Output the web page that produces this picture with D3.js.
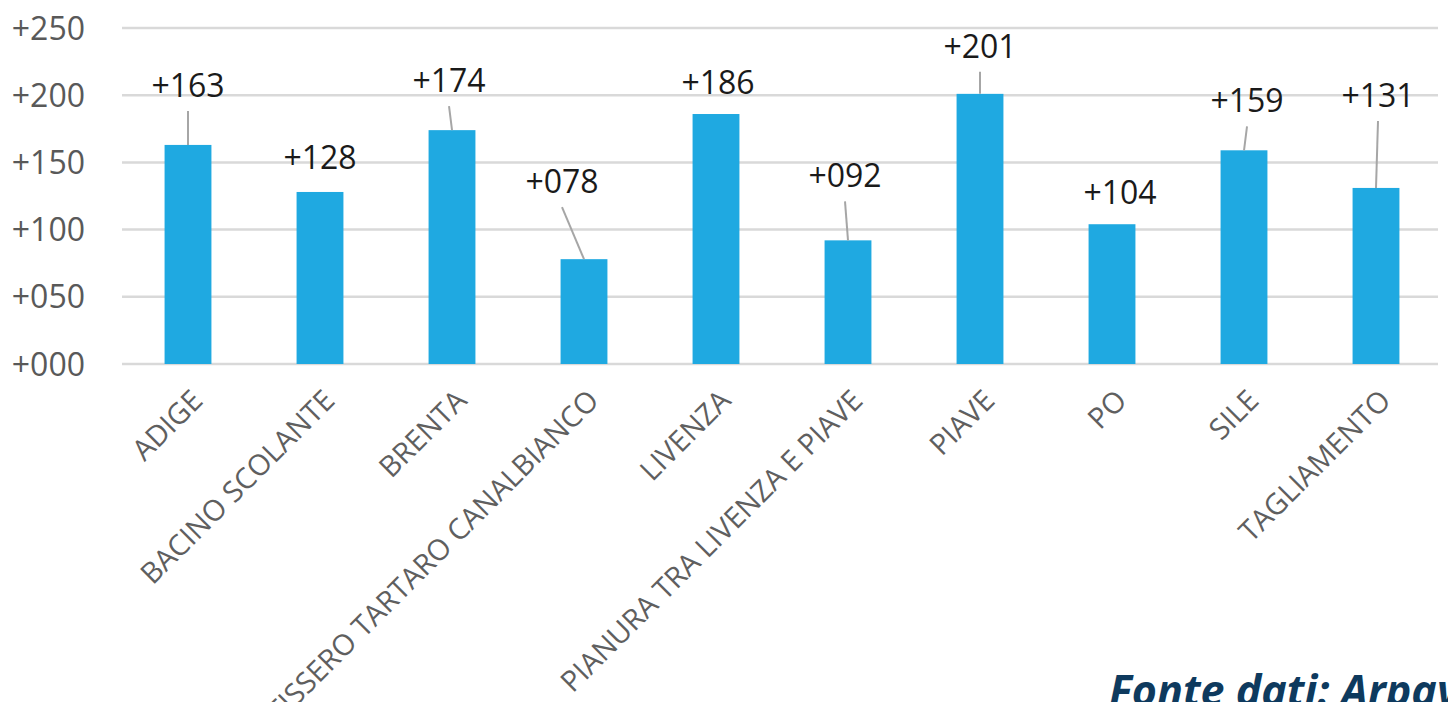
<!DOCTYPE html>
<html lang="it">
<head>
    <meta charset="UTF-8">
    <title>Bacini - D3.js Bar Chart</title>
    <script src="https://d3js.org/d3.v7.min.js"></script>
    <style>
        body { margin: 0; background: #fff; overflow: hidden; }
        svg { display: block; font-family: "Open Sans", sans-serif; }
        .grid line { stroke: #d9d9d9; stroke-width: 2.5; }
        .bar { fill: #1fa9e1; }
        .tick-label { font-size: 32px; fill: #595959; text-anchor: end; }
        .cat-label { font-size: 29px; fill: #5f5f5f; text-anchor: end; }
        .value-label { font-size: 32px; fill: #1a1a1a; text-anchor: middle; }
        .leader { stroke: #a6a6a6; stroke-width: 2; }
        .source { font-size: 43px; font-weight: bold; font-style: italic; fill: #0e3a5e; }
    </style>
</head>
<body>
    <script>
        // Data
        const categories = ["ADIGE", "BACINO SCOLANTE", "BRENTA", "FISSERO TARTARO CANALBIANCO", "LIVENZA",
            "PIANURA TRA LIVENZA E PIAVE", "PIAVE", "PO", "SILE", "TAGLIAMENTO"];
        const values = [163, 128, 174, 78, 186, 92, 201, 104, 159, 131];
        const yTicks = [0, 50, 100, 150, 200, 250];

        // Manual placement of the value labels (moved by hand in the original)
        const labelDx = [0, 0, -3, -22, 2, -3, 0, 8, 3, 2];
        const labelRise = [48, 23, 38, 66, 20, 53, 36, 20, 38, 81];

        const fmt = d => "+" + String(d).padStart(3, "0");

        // SVG dimensions
        const width = 1448;
        const height = 702;
        const margin = { left: 122, right: 6, top: 28, bottom: 338 };

        const svg = d3.select("body")
            .append("svg")
            .attr("width", width)
            .attr("height", height);

        // Scales
        const x = d3.scaleBand()
            .domain(categories)
            .range([margin.left, width - margin.right])
            .paddingInner(0.645)
            .paddingOuter(0.3225);

        const y = d3.scaleLinear()
            .domain([0, 250])
            .range([height - margin.bottom, margin.top]);

        const cx = i => x(categories[i]) + x.bandwidth() / 2;

        // Gridlines
        svg.append("g")
            .attr("class", "grid")
            .selectAll("line")
            .data(yTicks)
            .enter()
            .append("line")
            .attr("x1", margin.left)
            .attr("x2", width - margin.right - 4)
            .attr("y1", d => y(d))
            .attr("y2", d => y(d));

        // Y tick labels
        svg.append("g")
            .selectAll("text")
            .data(yTicks)
            .enter()
            .append("text")
            .attr("class", "tick-label")
            .attr("x", 85)
            .attr("y", d => y(d))
            .attr("dy", "0.36em")
            .text(fmt);

        // Bars
        svg.append("g")
            .selectAll("rect")
            .data(values)
            .enter()
            .append("rect")
            .attr("class", "bar")
            .attr("x", (d, i) => x(categories[i]))
            .attr("width", x.bandwidth())
            .attr("y", d => y(d))
            .attr("height", d => y(0) - y(d));

        // Category labels, rotated
        svg.append("g")
            .selectAll("text")
            .data(categories)
            .enter()
            .append("text")
            .attr("class", "cat-label")
            .attr("transform", (d, i) => `translate(${cx(i) + 2}, 388) rotate(-45)`)
            .attr("dy", "0.7em")
            .text(d => d);

        // Leader lines for labels that were pulled away from their bar
        const leaderIdx = d3.range(values.length).filter(i => labelRise[i] > 30);

        svg.append("g")
            .selectAll("line")
            .data(leaderIdx)
            .enter()
            .append("line")
            .attr("class", "leader")
            .attr("x1", i => cx(i) + labelDx[i])
            .attr("y1", i => y(values[i]) - labelRise[i] + 14)
            .attr("x2", i => cx(i))
            .attr("y2", i => y(values[i]));

        // Value labels
        svg.append("g")
            .selectAll("text")
            .data(values)
            .enter()
            .append("text")
            .attr("class", "value-label")
            .attr("x", (d, i) => cx(i) + labelDx[i])
            .attr("y", (d, i) => y(d) - labelRise[i])
            .text(fmt);

        // Source note
        svg.append("text")
            .attr("class", "source")
            .attr("x", 1109)
            .attr("y", 706)
            .text("Fonte dati: Arpav");
    </script>
</body>
</html>
